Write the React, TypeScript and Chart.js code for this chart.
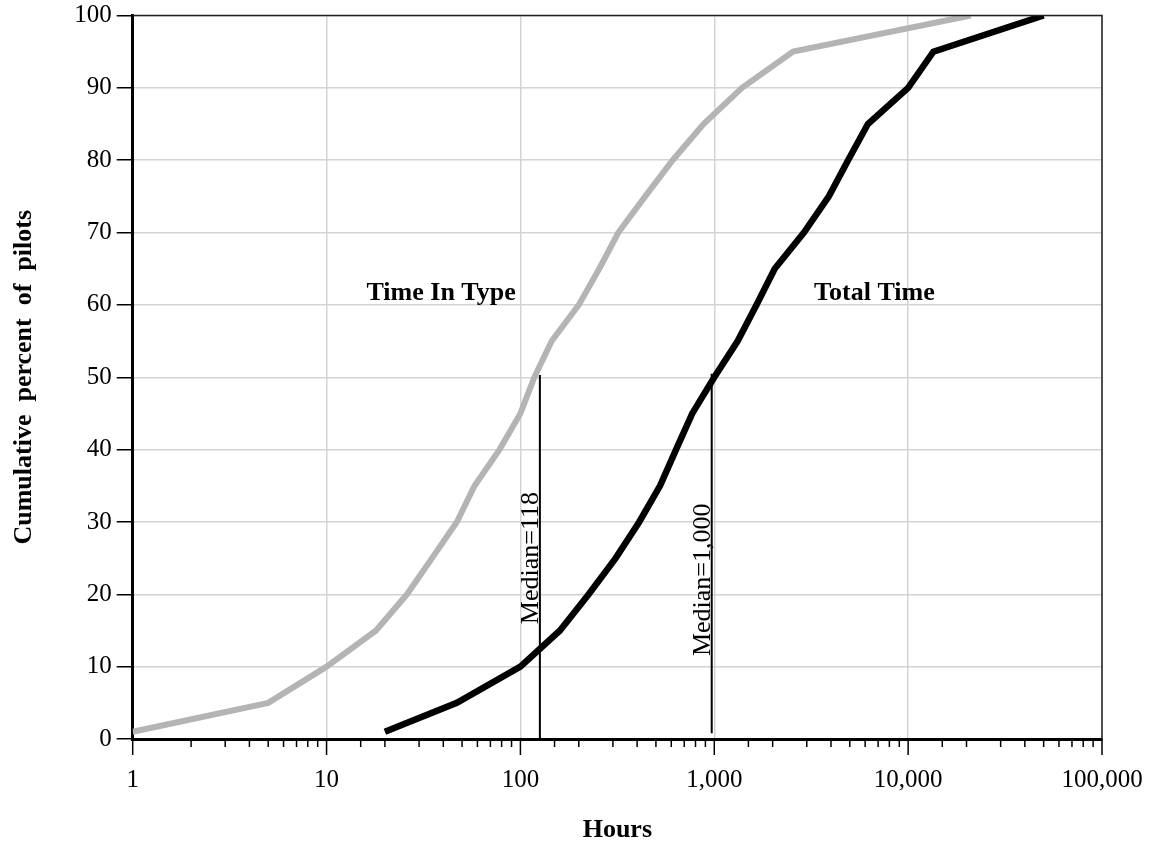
import React, { useEffect, useRef } from "react";
import { Chart, registerables } from "chart.js";

Chart.register(...registerables);

// ---- Data ----
const typeHours = [1, 5, 10, 18, 26, 35, 47, 58, 78, 100, 118, 145, 200, 255, 320, 440, 610, 880, 1390, 2550, 21000];
const typePct = [1, 5, 10, 15, 20, 25, 30, 35, 40, 45, 50, 55, 60, 65, 70, 75, 80, 85, 90, 95, 100];

const totalHours = [20, 47, 100, 160, 225, 310, 410, 525, 635, 770, 1000, 1320, 1650, 2050, 2900, 3900, 4900, 6200, 10000, 13500, 50000];
const totalPct = [1, 5, 10, 15, 20, 25, 30, 35, 40, 45, 50, 55, 60, 65, 70, 75, 80, 85, 90, 95, 100];

const medianTypeX = [126, 126];
const medianTypeY = [0, 50.3];
const medianTotalX = [970, 970];
const medianTotalY = [0.8, 50.5];

const seriesLabels = ["Time In Type", "Total Time"];
const seriesLabelX = [39, 6700];
const seriesLabelY = [60.7, 60.7];

const medianLabels = ["Median=118", "Median=1,000"];
const medianLabelX = [126, 970];
const medianLabelY = [25, 22];

const xMin = 1;
const xMax = 100000;
const yMin = 0;
const yMax = 100;
const yStep = 10;

const FONT = '"Liberation Serif", "Times New Roman", serif';

const zip = (xs: number[], ys: number[]) => xs.map((x, i) => ({ x, y: ys[i] }));

const isMajor = (v: number) => {
  const l = Math.log10(v);
  return Math.abs(l - Math.round(l)) < 1e-9;
};

const decorPlugin = {
  id: "decor",
  afterDraw(chart: any) {
    const { ctx, chartArea, scales } = chart;
    const xs = scales.x;
    const ys = scales.y;
    ctx.save();
    // frame top & right
    ctx.strokeStyle = "#222";
    ctx.lineWidth = 1.5;
    ctx.beginPath();
    ctx.moveTo(chartArea.left, chartArea.top);
    ctx.lineTo(chartArea.right, chartArea.top);
    ctx.lineTo(chartArea.right, chartArea.bottom);
    ctx.stroke();

    // x tick marks (major long, minor short)
    ctx.strokeStyle = "#000";
    ctx.lineWidth = 1.5;
    xs.ticks.forEach((t: any) => {
      const px = xs.getPixelForValue(t.value);
      const len = isMajor(t.value) ? 16 : 8;
      ctx.beginPath();
      ctx.moveTo(px, chartArea.bottom);
      ctx.lineTo(px, chartArea.bottom + len);
      ctx.stroke();
    });

    // series labels
    ctx.fillStyle = "#000";
    ctx.font = `bold 26px ${FONT}`;
    ctx.textAlign = "center";
    ctx.textBaseline = "alphabetic";
    seriesLabels.forEach((s, i) => {
      ctx.fillText(s, xs.getPixelForValue(seriesLabelX[i]), ys.getPixelForValue(seriesLabelY[i]));
    });

    // median labels (rotated)
    ctx.font = `26px ${FONT}`;
    medianLabels.forEach((s, i) => {
      const px = xs.getPixelForValue(medianLabelX[i]) - 2;
      const py = ys.getPixelForValue(medianLabelY[i]);
      ctx.save();
      ctx.translate(px, py);
      ctx.rotate(-Math.PI / 2);
      ctx.textAlign = "center";
      ctx.textBaseline = "alphabetic";
      ctx.fillText(s, 0, 0);
      ctx.restore();
    });
    ctx.restore();
  },
};

export default function App() {
  const ref = useRef<HTMLCanvasElement | null>(null);

  useEffect(() => {
    if (!ref.current) return;
    const chart = new Chart(ref.current, {
      type: "line",
      data: {
        datasets: [
          {
            label: "Time In Type",
            data: zip(typeHours, typePct),
            borderColor: "#b4b4b4",
            borderWidth: 6,
            pointRadius: 0,
            tension: 0,
            fill: false,
          },
          {
            label: "Total Time",
            data: zip(totalHours, totalPct),
            borderColor: "#000",
            borderWidth: 6.5,
            pointRadius: 0,
            tension: 0,
            fill: false,
          },
          {
            label: "Median type",
            data: zip(medianTypeX, medianTypeY),
            borderColor: "#000",
            borderWidth: 2,
            pointRadius: 0,
            fill: false,
          },
          {
            label: "Median total",
            data: zip(medianTotalX, medianTotalY),
            borderColor: "#000",
            borderWidth: 2,
            pointRadius: 0,
            fill: false,
          },
        ],
      },
      options: {
        animation: false,
        responsive: true,
        maintainAspectRatio: false,
        layout: { padding: { left: 0, right: 50, top: 15.5, bottom: 0 } },
        plugins: {
          legend: { display: false },
          tooltip: { enabled: false },
          title: { display: false },
        },
        scales: {
          x: {
            type: "logarithmic",
            min: xMin,
            max: xMax,
            afterFit: (scale: any) => {
              scale.height = 107;
              scale.paddingLeft = 0;
              scale.paddingRight = 0;
            },
            border: { display: true, color: "#000", width: 3 },
            grid: {
              drawTicks: false,
              lineWidth: 1.5,
              color: (ctx: any) => (ctx.tick && isMajor(ctx.tick.value) ? "#d3d3d3" : "rgba(0,0,0,0)"),
            },
            ticks: {
              autoSkip: false,
              maxRotation: 0,
              minRotation: 0,
              padding: 26,
              color: "#000",
              font: { family: FONT, size: 25 },
              callback: (v: any) => {
                const n = Number(v);
                return isMajor(n) ? n.toLocaleString("en-US") : "";
              },
            },
            title: {
              display: true,
              text: "Hours",
              color: "#000",
              font: { family: FONT, size: 26, weight: "bold" },
              padding: { top: 0, bottom: 0 },
            },
          },
          y: {
            type: "linear",
            min: yMin,
            max: yMax,
            afterFit: (scale: any) => {
              scale.width = 132.7;
              scale.paddingTop = 0;
              scale.paddingBottom = 0;
            },
            border: { display: true, color: "#000", width: 3 },
            grid: {
              drawTicks: true,
              tickLength: 16,
              tickColor: "#000",
              tickWidth: 1.5,
              lineWidth: 1.5,
              color: "#d3d3d3",
            },
            ticks: {
              stepSize: yStep,
              padding: 5,
              color: "#000",
              font: { family: FONT, size: 25 },
            },
            title: {
              display: true,
              text: "Cumulative  percent  of  pilots",
              color: "#000",
              font: { family: FONT, size: 26, weight: "bold" },
              padding: { top: 8.4, bottom: 0 },
            },
          },
        },
      },
      plugins: [decorPlugin],
    } as any);
    return () => chart.destroy();
  }, []);

  return (
    <div style={{ position: "absolute", left: 0, top: 0, width: 1152, height: 846, background: "#fff" }}>
      <canvas ref={ref} />
    </div>
  );
}
